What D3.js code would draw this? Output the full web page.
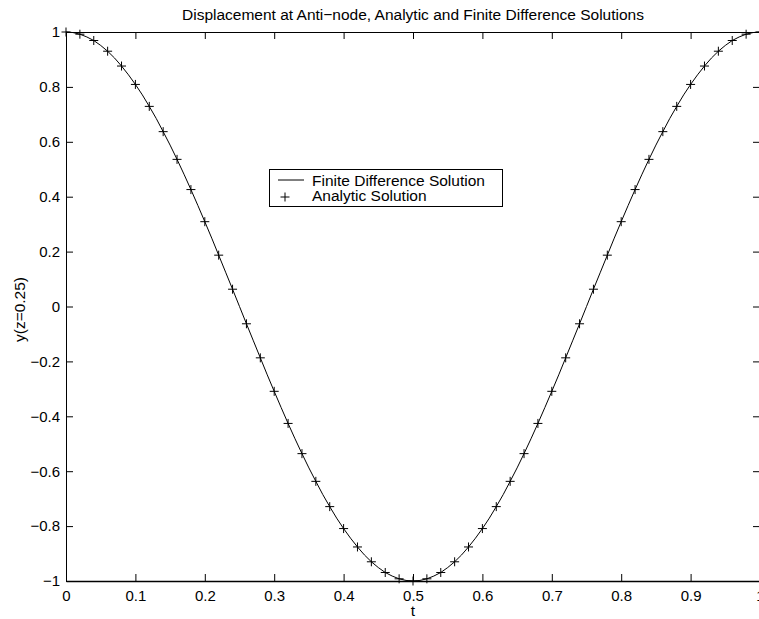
<!DOCTYPE html>
<html>
<head>
<meta charset="utf-8">
<script src="https://cdn.jsdelivr.net/npm/d3@7"></script>
<style>
  html, body { margin: 0; padding: 0; background: #fff; }
  svg { display: block; font-family: "Liberation Sans", Arial, Helvetica, sans-serif; }
</style>
</head>
<body>
<svg id="chart" width="759" height="619"></svg>
<script>
// Finite difference solution, sampled every 0.01 in t
const fdStep = 0.01;
const fdValues = [
  1, 0.998, 0.992, 0.982, 0.969, 0.951, 0.930, 0.905, 0.876, 0.844, 0.809,
  0.771, 0.729, 0.685, 0.637, 0.588, 0.536, 0.482, 0.426, 0.368, 0.309,
  0.249, 0.187, 0.125, 0.063, 0,
  -0.063, -0.125, -0.187, -0.249, -0.309, -0.368, -0.426, -0.482, -0.536, -0.588,
  -0.637, -0.685, -0.729, -0.771, -0.809, -0.844, -0.876, -0.905, -0.930, -0.951,
  -0.969, -0.982, -0.992, -0.998, -1,
  -0.998, -0.992, -0.982, -0.969, -0.951, -0.930, -0.905, -0.876, -0.844, -0.809,
  -0.771, -0.729, -0.685, -0.637, -0.588, -0.536, -0.482, -0.426, -0.368, -0.309,
  -0.249, -0.187, -0.125, -0.063, 0,
  0.063, 0.125, 0.187, 0.249, 0.309, 0.368, 0.426, 0.482, 0.536, 0.588,
  0.637, 0.685, 0.729, 0.771, 0.809, 0.844, 0.876, 0.905, 0.930, 0.951,
  0.969, 0.982, 0.992, 0.998, 1,
];

// Analytic solution markers, every 0.02 in t
const analyticStep = 0.02;
const analyticValues = [
  1, 0.992, 0.969, 0.930, 0.876, 0.809, 0.729, 0.637, 0.536, 0.426, 0.309, 0.187, 0.063,
  -0.063, -0.187, -0.309, -0.426, -0.536, -0.637, -0.729, -0.809, -0.876, -0.930, -0.969, -0.992, -1,
  -0.992, -0.969, -0.930, -0.876, -0.809, -0.729, -0.637, -0.536, -0.426, -0.309, -0.187, -0.063,
  0.063, 0.187, 0.309, 0.426, 0.536, 0.637, 0.729, 0.809, 0.876, 0.930, 0.969, 0.992, 1,
];

const xTicks = [0, 0.1, 0.2, 0.3, 0.4, 0.5, 0.6, 0.7, 0.8, 0.9, 1];
const yTicks = [-1, -0.8, -0.6, -0.4, -0.2, 0, 0.2, 0.4, 0.6, 0.8, 1];

const titleText = "Displacement at Anti\u2212node, Analytic and Finite Difference Solutions";
const xLabel = "t";
const yLabel = "y(z=0.25)";
const legendLabels = ["Finite Difference Solution", "Analytic Solution"];

const margin = { top: 32, left: 66 };
const plotW = 694;
const plotH = 549;
const fontSize = 15.5;
const tickFont = 15;

const svg = d3.select("#chart");
const g = svg.append("g").attr("transform", `translate(${margin.left},${margin.top})`);

const x = d3.scaleLinear().domain([0, 1]).range([0, plotW]);
const y = d3.scaleLinear().domain([-1, 1]).range([plotH, 0]);

const fmt = (d) => String(d).replace("-", "\u2212");

// box + inward ticks (matlab style)
const tickLen = 7;
const axisBottom = g.append("g")
  .attr("transform", `translate(0,${plotH})`)
  .call(d3.axisBottom(x).tickValues(xTicks).tickFormat(fmt).tickSizeInner(-tickLen).tickSizeOuter(0).tickPadding(9));
g.append("g")
  .call(d3.axisLeft(y).tickValues(yTicks).tickFormat(fmt).tickSizeInner(-tickLen).tickSizeOuter(0).tickPadding(6));
g.append("g")
  .call(d3.axisTop(x).tickValues(xTicks).tickFormat("").tickSizeInner(-tickLen).tickSizeOuter(0));
g.append("g")
  .attr("transform", `translate(${plotW},0)`)
  .call(d3.axisRight(y).tickValues(yTicks).tickFormat("").tickSizeInner(-tickLen).tickSizeOuter(0));

g.selectAll(".domain").attr("stroke", "#000").attr("stroke-width", 1);
g.selectAll(".tick line").attr("stroke", "#000");
g.selectAll(".tick text")
  .attr("fill", "#000")
  .attr("font-family", "Liberation Sans, Arial, Helvetica, sans-serif")
  .attr("font-size", tickFont);
axisBottom.select(".domain").attr("stroke-width", 1.6);

// finite difference line
const fdData = fdValues.map((v, i) => ({ t: i * fdStep, v }));
g.append("path")
  .datum(fdData)
  .attr("fill", "none")
  .attr("stroke", "#000")
  .attr("stroke-width", 1)
  .attr("d", d3.line().x((d) => x(d.t)).y((d) => y(d.v)));

// analytic "+" markers
const ms = 4.5;
const plusPath = `M${-ms},0H${ms}M0,${-ms}V${ms}`;
const anData = analyticValues.map((v, i) => ({ t: i * analyticStep, v }));
g.append("g")
  .selectAll("path")
  .data(anData)
  .join("path")
  .attr("transform", (d) => `translate(${x(d.t)},${y(d.v)})`)
  .attr("d", plusPath)
  .attr("fill", "none")
  .attr("stroke", "#000")
  .attr("stroke-width", 1);

// title + axis labels
svg.append("text")
  .attr("x", margin.left + plotW / 2)
  .attr("y", 20)
  .attr("text-anchor", "middle")
  .attr("font-size", fontSize)
  .text(titleText);

svg.append("text")
  .attr("x", margin.left + plotW / 2)
  .attr("y", 616)
  .attr("text-anchor", "middle")
  .attr("font-size", fontSize)
  .text(xLabel);

svg.append("text")
  .attr("transform", `translate(25,${margin.top + plotH / 2 + 3}) rotate(-90)`)
  .attr("text-anchor", "middle")
  .attr("font-size", fontSize)
  .text(yLabel);

// legend
const legend = svg.append("g").attr("transform", "translate(269,169)");
legend.append("rect")
  .attr("x", 0.5).attr("y", 0.5)
  .attr("width", 233).attr("height", 37)
  .attr("fill", "#fff")
  .attr("stroke", "#000")
  .attr("stroke-width", 1);
legend.append("line")
  .attr("x1", 9).attr("x2", 35)
  .attr("y1", 11).attr("y2", 11)
  .attr("stroke", "#000");
legend.append("path")
  .attr("transform", "translate(16,28)")
  .attr("d", plusPath)
  .attr("stroke", "#000");
legend.selectAll("text.lbl")
  .data(legendLabels)
  .join("text")
  .attr("class", "lbl")
  .attr("x", 43)
  .attr("y", (d, i) => 16.5 + i * 15)
  .attr("font-size", fontSize)
  .text((d) => d);
</script>
</body>
</html>
